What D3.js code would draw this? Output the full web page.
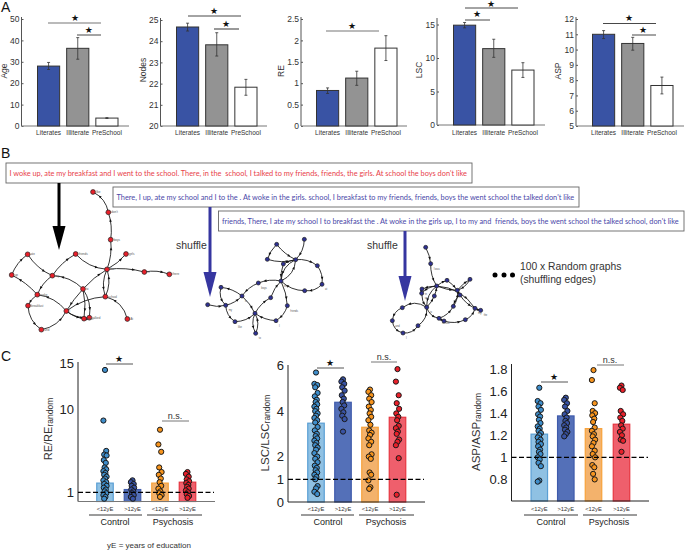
<!DOCTYPE html>
<html><head><meta charset="utf-8">
<script src="https://cdn.jsdelivr.net/npm/d3@7/dist/d3.min.js"></script>
<style>html,body{margin:0;padding:0;background:#fff}svg{display:block}text{font-family:"Liberation Sans",Arial,sans-serif;fill:#222}</style>
</head><body><svg id="c" width="685" height="551"></svg>
<script>
// ---------- Panel A data ----------
const groupsA = ["Literates","Illiterate","PreSchool"];
const ageVals=[28,36.3,3.7], ageLo=[26.4,31.2,3.5], ageHi=[29.7,41.3,3.9], ageTicks=[0,10,20,30,40,50];
const nodesVals=[24.67,23.83,21.83], nodesLo=[24.48,23.3,21.45], nodesHi=[24.85,24.4,22.2], nodesTicks=[20,21,22,23,24,25];
const reVals=[0.83,1.12,1.82], reLo=[0.76,0.95,1.53], reHi=[0.89,1.28,2.11], reTicks=[0,0.5,1,1.5,2,2.5], reTickLabels=["0","0.5","1","1.5","2","2.5"];
const lscVals=[14.9,11.4,8.2], lscLo=[14.5,10.1,7.1], lscHi=[15.3,12.8,9.3], lscTicks=[0,5,10,15];
const aspVals=[11,10.4,7.65], aspLo=[10.72,9.96,7.1], aspHi=[11.24,10.8,8.2], aspTicks=[5,6,7,8,9,10,11,12];
// ---------- Panel B data ----------
const sentence1="I woke up, ate my breakfast and I went to the school. There, in the  school, I talked to my friends, friends, the girls. At school the boys don't like";
const sentence2="There, I up, ate my school and I to the . At woke in the girls. school, I breakfast to my friends, friends, boys the went school the talked don't like";
const sentence3="friends, There, I ate my school I to breakfast the . At woke in the girls up, I to my and  friends, boys the went school the talked school, don't like";
const redNodes=[[279,141,"like"],[325,202,"don't"],[332,284,"boys"],[378,327,"girls"],[321,373,"the"],[433,381,"in"],[508,388,"there"],[227,327,"friends"],[83,328,"ate"],[157,392,"my"],[35,390,"up"],[112,449,"woke"],[84,482,"breakfast"],[124,554,"and"],[199,498,"I"],[249,432,"to"],[316,455,"school"],[268,518,"talked"],[382,522,"At"],[252,521,"went"]];
const redEdges=[[1,0,.25],[2,1,.12],[4,2,.12],[4,3,.1],[4,5,-.1],[5,6,-.15],[7,4,.2],[9,7,-.12],[8,9,.15],[10,8,-.15],[9,11,.15],[11,10,.1],[11,12,.15],[12,13,.25],[13,14,.25],[14,11,.2],[15,9,.2],[15,4,-.08],[15,14,.05],[16,14,.15],[4,16,.2],[16,4,.2],[15,17,-.2],[15,19,-.1],[14,17,.2],[14,19,.15],[19,17,.3],[18,16,.3]];
const blueNodesA=[[830,298,""],[913,283,""],[802,343,""],[887,344,""],[850,357,""],[952,362,""],[843,408,"the"],[775,414,"boys"],[966,418,"at"],[914,437,""],[812,458,""],[726,453,"in"],[663,427,""],[677,481,"my"],[623,479,""],[862,482,"friends"],[765,505,""],[705,530,"like"],[828,527,"I"],[767,565,"to"]];
const blueEdgesA=[[0,2,.12],[0,3,.12],[1,3,-.2],[2,3,.15],[3,4,.1],[4,6,.1],[6,3,.3],[3,6,.3],[3,5,-.2],[5,8,-.2],[8,9,-.25],[9,6,-.2],[6,7,.15],[7,11,.15],[11,12,.15],[12,13,.3],[14,13,.15],[13,11,.15],[13,17,.25],[17,16,.2],[11,16,-.1],[16,10,-.15],[10,6,-.12],[6,15,-.1],[15,18,-.2],[18,16,-.15],[16,19,.25],[19,16,.25]];
const blueNodesB=[[257,307,""],[272,356,"I was"],[321,406,""],[390,403,""],[290,423,""],[352,436,""],[246,432,"in"],[245,445,"up"],[283,453,""],[360,450,""],[340,484,""],[260,487,"to"],[187,488,""],[405,490,"my"],[422,496,"the"],[157,527,"and"],[297,520,"school"],[312,528,""],[376,524,""],[234,542,""],[189,564,"I"]];
const blueEdgesB=[[0,1,-.1],[1,4,.15],[4,2,-.1],[2,5,-.1],[5,3,-.1],[3,5,-.2],[4,5,.1],[4,6,.1],[6,7,.2],[4,7,.2],[7,11,.2],[4,11,.25],[11,8,.1],[8,4,.1],[11,12,.35],[12,15,.3],[15,20,.35],[20,19,.3],[19,11,.3],[11,16,.3],[16,17,.1],[17,18,.2],[18,13,.25],[13,14,.1],[5,9,.1],[9,13,.15],[9,10,.2],[10,5,.2],[4,13,-.25],[16,10,.2]];
// ---------- Panel C data ----------
const groupsC=["<12yE",">12yE","<12yE",">12yE"];
const reBars=[2,1.3,2,2.1];
const reDots=[[14.3,8.8,5.5,5.1,5,4.5,4.2,3.7,3.5,3.3,3.1,2.9,2.7,2.5,2.3,2.1,1.9,1.7,1.5,1.3,1.1,0.9,0.7,0.5,0.3],[2.3,2.1,1.9,1.7,1.5,1.3,1.1,0.9,0.7,0.5,0.3],[7.8,6.2,5.4,3.7,3.2,2.9,2.5,2.1,1.7,1.4,1.1,0.9,0.7,0.5],[3.2,3,2.7,2.4,2.2,2,1.8,1.6,1.4,1.2,1,0.8,0.6,0.4]];
const lscBars=[3.47,4.39,3.29,3.73];
const lscDots=[[5.7,5.2,5.15,5.05,4.8,4.65,4.5,4.4,4.3,4.2,4.1,4,3.9,3.8,3.7,3.6,3.5,3.3,3.15,3,2.9,2.8,2.7,2.6,2.5,2.4,2.3,2.15,2,1.9,1.75,1.6,1.5,1.4,1.3,1.2,1.1,1,0.7,0.6,0.45,0.35],[5.4,5.3,5.2,5.05,4.9,4.7,4.55,4.4,4.25,4.1,3.95,3.8,3.65,3.1],[4.95,4.85,4.7,4.55,4.4,4.2,4.05,3.9,3.75,3.6,3.4,3.15,3.05,2.95,2.8,2.65,2.5,2.1,2,1.9,1.3,1.2,0.95,0.65,0.58],[5.85,5.3,4.7,4.35,4.1,3.9,3.75,3.6,3.35,3.25,3.1,3,2.75,2.65,2.5,1.93,0.32]];
const aspBars=[1.21,1.375,1.26,1.3];
const aspDots=[[1.63,1.51,1.49,1.46,1.43,1.39,1.37,1.34,1.31,1.28,1.26,1.24,1.22,1.2,1.18,1.16,1.14,1.12,1.1,1.07,1.05,1.03,1,0.98,0.95,0.92,0.79,0.78],[1.54,1.52,1.49,1.46,1.42,1.39,1.36,1.33,1.31,1.29,1.27,1.25,1.23,1.21,1.19],[1.79,1.7,1.49,1.42,1.4,1.38,1.35,1.32,1.27,1.24,1.21,1.19,1.16,1.13,1.1,1.06,1.03,1,0.93,0.91,0.85,0.8],[1.65,1.63,1.61,1.42,1.39,1.36,1.33,1.29,1.26,1.23,1.2,1.16,1.15,1.05]];
const jitter=[0,-2,1.5,-1,2,-1.5,1,-.5,1.5,-2,.5,-1,2];

const svg=d3.select("#c");
const ink="#333";

function star(x,y,sz=9){svg.append("text").attr("x",x).attr("y",y+sz*.33).attr("text-anchor","middle").attr("font-size",sz).style("font-family","'DejaVu Sans'").style("fill","#111").text("★");}
function bracket(x1,x2,y,col="#333",w=1){svg.append("line").attr("x1",x1).attr("x2",x2).attr("y1",y).attr("y2",y).attr("stroke",col).attr("stroke-width",w);}

// ---- Panel A ----
const colsA=["#3953a4","#939393","#ffffff"];
function barPanel(o){
  const y=d3.scaleLinear().domain(o.domain).range([o.y0,o.y1]);
  const x=d3.scaleBand().domain(groupsA).range([o.x+o.pad,o.x+o.pad+80.5]).paddingInner(.24).paddingOuter(0);
  const g=svg.append("g");
  const ax=g.append("g").attr("transform",`translate(${o.x},0)`).call(d3.axisLeft(y).tickValues(o.ticks).tickSize(-2).tickPadding(2).tickFormat((d,i)=>o.labels?o.labels[i]:d));
  ax.selectAll("text").attr("font-size",8.5).style("fill","#333");
  ax.selectAll("path,line").attr("stroke","#555");
  ax.select("path").attr("d",`M0,${o.y0}V${o.top}`);
  g.append("line").attr("x1",o.x).attr("x2",o.xEnd).attr("y1",o.y0).attr("y2",o.y0).attr("stroke","#777").attr("stroke-width",1);
  g.selectAll("rect").data(o.vals).join("rect").attr("x",(d,i)=>x(groupsA[i])).attr("width",x.bandwidth())
    .attr("y",d=>y(d)).attr("height",d=>o.y0-y(d)).attr("fill",(d,i)=>colsA[i]).attr("stroke",ink).attr("stroke-width",1);
  o.vals.forEach((d,i)=>{const c=x(groupsA[i])+x.bandwidth()/2;
    g.append("path").attr("d",`M${c-1.5},${y(o.hi[i])}H${c+1.5}M${c},${y(o.hi[i])}V${y(o.lo[i])}M${c-1.5},${y(o.lo[i])}H${c+1.5}`).attr("stroke","#333").attr("stroke-width",.8).attr("fill","none");
    g.append("text").attr("x",c).attr("y",134.5).attr("text-anchor","middle").attr("font-size",6.5).style("fill","#333").text(groupsA[i]);
  });
  g.append("text").attr("transform",`translate(${o.lx},${o.ly}) rotate(-90)`).attr("text-anchor","middle").attr("font-size",8.5).style("fill","#333").text(o.name);
  o.br.forEach(b=>{bracket(b[0],b[1],b[2],b[3]||"#333",b[3]?1.2:.9);star(b[4],b[5]);});
}
barPanel({name:"Age",x:21.5,pad:16,xEnd:129,y0:126,y1:19,top:17,domain:[0,50],ticks:ageTicks,vals:ageVals,lo:ageLo,hi:ageHi,lx:7,ly:71,
  br:[[48,101,23,"#777",75,18],[77,101,35,null,88.7,30]]});
barPanel({name:"Nodes",x:160.5,pad:16,xEnd:267,y0:126,y1:20,top:18,domain:[20,25],ticks:nodesTicks,vals:nodesVals,lo:nodesLo,hi:nodesHi,lx:146,ly:70,
  br:[[188,241,16,null,214,11],[214,239,29,"#555",226,24]]});
barPanel({name:"RE",x:301,pad:15.5,xEnd:407,y0:126,y1:19,top:17,domain:[0,2.5],ticks:reTicks,labels:reTickLabels,vals:reVals,lo:reLo,hi:reHi,lx:284,ly:71,
  br:[[326,379,31,"#777",352,26]]});
barPanel({name:"LSC",x:437,pad:16.5,xEnd:545,y0:125,y1:24.5,top:18,domain:[0,15],ticks:lscTicks,vals:lscVals,lo:lscLo,hi:lscHi,lx:422,ly:70,
  br:[[465,518,8,null,491,4],[465,490,20,null,477,14.5]]});
barPanel({name:"ASP",x:576,pad:16.5,xEnd:684,y0:126,y1:19,top:17,domain:[5,12],ticks:aspTicks,vals:aspVals,lo:aspLo,hi:aspHi,lx:561,ly:71,
  br:[[603,656,23.5,null,629,18],[632,656,35,null,643,30]]});

// letters
[["A",1,12],["B",1,158],["C",1,361]].forEach(d=>svg.append("text").attr("x",d[1]).attr("y",d[2]).attr("font-size",14).style("fill","#111").text(d[0]));

// ---- Panel B ----
function box(x1,x2,y1,y2,t,col){
  svg.append("rect").attr("x",x1).attr("y",y1).attr("width",x2-x1).attr("height",y2-y1).attr("fill","#fff").attr("stroke","#666").attr("stroke-width",.9);
  const s=svg.append("text").attr("x",x1+3.5).attr("y",(y1+y2)/2+2.8).style("white-space","pre").attr("font-size",8).style("font-family","Lato").style("fill",col).text(t);
  const w=s.node().getComputedTextLength();
  s.attr("font-size",8*(x2-x1-8)/w);
}
function arrow(x,y1,y2,y3,hw,w,col){
  svg.append("line").attr("x1",x).attr("x2",x).attr("y1",y1).attr("y2",y2+1).attr("stroke",col).attr("stroke-width",w);
  svg.append("path").attr("d",d3.line()([[x-hw,y2],[x+hw,y2],[x,y3]])+"Z").attr("fill",col);
}
function network(nodes,edges,ox,oy,fill,r,labelSize){
  const gx=d3.scaleLinear().domain([0,3]).range([ox,ox+1]), gy=d3.scaleLinear().domain([0,3]).range([oy,oy+1]);
  const g=svg.append("g");
  edges.forEach(e=>{
    const a=nodes[e[0]],b=nodes[e[1]];
    const x1=gx(a[0]),y1=gy(a[1]),x2=gx(b[0]),y2=gy(b[1]);
    const dx=x2-x1,dy=y2-y1,mx=(x1+x2)/2-dy*e[2],my=(y1+y2)/2+dx*e[2];
    g.append("path").attr("d",`M${x1},${y1}Q${mx},${my} ${x2},${y2}`).attr("fill","none").attr("stroke","#111").attr("stroke-width",.85);
    const t=.72,ax=(1-t)*(1-t)*x1+2*t*(1-t)*mx+t*t*x2,ay=(1-t)*(1-t)*y1+2*t*(1-t)*my+t*t*y2;
    const tx=2*(1-t)*(mx-x1)+2*t*(x2-mx),ty=2*(1-t)*(my-y1)+2*t*(y2-my),an=Math.atan2(ty,tx)*180/Math.PI;
    g.append("path").attr("d","M-2,-1.3L1,0L-2,1.3Z").attr("transform",`translate(${ax},${ay}) rotate(${an})`).attr("fill","#111");
  });
  nodes.forEach(n=>{
    g.append("circle").attr("cx",gx(n[0])).attr("cy",gy(n[1])).attr("r",r).attr("fill",fill).attr("stroke","#222").attr("stroke-width",.7);
    if(n[2])g.append("text").attr("x",gx(n[0])+3).attr("y",gy(n[1])+ (labelSize>2.8?1:6)).attr("font-size",labelSize).style("fill","#555").text(n[2]);
  });
}
network(redNodes,redEdges,0,145,"#e8202a",2.4,3);
network(blueNodesA,blueEdgesA,0,145,"#2e3192",2,2.6);
network(blueNodesB,blueEdgesB,340,145,"#2e3192",2,2.6);
box(6,472,163,183,sentence1,"#e8414a");
box(113,579,187,207,sentence2,"#4a48a8");
box(218.5,684,211,231,sentence3,"#4a48a8");
arrow(59,183,226,250,6.5,3,"#000");
arrow(210,207,272,297,6.5,3,"#3636a0");
arrow(405,231,276,301,6.5,3,"#3636a0");
[[176,249],[367,249]].forEach(p=>svg.append("text").attr("x",p[0]).attr("y",p[1]).attr("font-size",10.5).style("fill","#333").text("shuffle"));
[495,504,512.5].forEach(x=>svg.append("circle").attr("cx",x).attr("cy",275).attr("r",2.5).attr("fill","#000"));
svg.append("text").attr("x",520).attr("y",270).attr("font-size",10.3).style("fill","#333").text("100 x Random graphs");
svg.append("text").attr("x",520).attr("y",282.5).attr("font-size",10.3).style("fill","#333").text("(shuffling edges)");

// ---- Panel C ----
const barFill=["#8fc1e3","#5470b8","#f3b26c","#ef5f6c"], barStroke=["#5a9fd4","#3f5bab","#f7a13a","#e53540"], dotFill=["#3f8ecb","#3953a4","#f7941d","#e8202a"];
function dotPanel(o){
  const y=d3.scaleLinear().domain(o.domain).range(o.range);
  const g=svg.append("g");
  const ax=g.append("g").attr("transform",`translate(${o.x},0)`).call(d3.axisLeft(y).tickValues(o.ticks).tickSize(0).tickPadding(4).tickFormat(d=>d));
  ax.selectAll("text").attr("font-size",13).style("fill","#222");
  ax.select("path").attr("d",`M0,${o.y0}V${o.top}`).attr("stroke","#222").attr("stroke-width",1);
  const cx=o.cx, bw=16.5;
  o.bars.forEach((d,i)=>{
    g.append("rect").attr("x",cx[i]-bw/2).attr("width",bw).attr("y",y(d)).attr("height",o.y0-y(d)).attr("fill",barFill[i]).attr("stroke",barStroke[i]).attr("stroke-width",1.2);
  });
  g.append("line").attr("x1",o.x).attr("x2",o.xEnd).attr("y1",o.y0).attr("y2",o.y0).attr("stroke",o.axisCol).attr("stroke-width",1);
  o.dots.forEach((col,i)=>{
    g.selectAll(null).data(col).join("circle").attr("cx",(d,j)=>cx[i]+jitter[j%jitter.length]*.8).attr("cy",d=>y(d)).attr("r",2.6)
      .attr("fill",dotFill[i]).attr("stroke","#1a1a1a").attr("stroke-width",1);
  });
  g.append("line").attr("x1",o.x).attr("x2",o.xEnd-1).attr("y1",y(1)).attr("y2",y(1)).attr("stroke","#000").attr("stroke-width",1.3).attr("stroke-dasharray","5 2.5");
  groupsC.forEach((t,i)=>g.append("text").attr("x",cx[i]).attr("y",511).attr("text-anchor","middle").attr("font-size",5.8).style("fill","#333").text(t));
  bracket(o.g1[0],o.g1[1],515,"#222",.9);bracket(o.g2[0],o.g2[1],515,"#222",.9);
  g.append("text").attr("x",o.g1[2]).attr("y",525).attr("text-anchor","middle").attr("font-size",9).style("fill","#222").text("Control");
  g.append("text").attr("x",o.g2[2]).attr("y",525).attr("text-anchor","middle").attr("font-size",9).style("fill","#222").text("Psychosis");
  const yl=g.append("text").attr("transform",`translate(${o.lx},${o.ly}) rotate(-90)`).attr("text-anchor","middle").style("fill","#333");
  yl.append("tspan").attr("font-size",o.ls).text(o.name);
  yl.append("tspan").attr("font-size",8.5).attr("dy",1).text("random");
  bracket(o.s[0],o.s[1],o.s[2],"#555",1);star(o.s[3],o.s[2]-4.5,9);
  bracket(o.n[0],o.n[1],o.n[2],"#777",1);
  g.append("text").attr("x",o.n[3]).attr("y",o.n[2]-2).attr("text-anchor","middle").attr("font-size",9).style("fill","#333").text("n.s.");
}
dotPanel({name:"RE/RE",ls:11,x:78,xEnd:215,y0:501.5,top:362,domain:[0,15],range:[501.5,363.5],ticks:[1,10,15],bars:reBars,dots:reDots,cx:[105,132.5,160,187.5],axisCol:"#777",
  g1:[89,142,115],g2:[147,202,173],lx:52,ly:429,s:[106,133,364,119],n:[162,189,421,175]});
dotPanel({name:"LSC/LSC",ls:11.5,x:288,xEnd:425,y0:502,top:365,domain:[0,6],range:[502,365.7],ticks:[0,1,2,4,6],bars:lscBars,dots:lscDots,cx:[316,343,370,397.5],axisCol:"#222",
  g1:[301,354,328],g2:[359,414,386],lx:269,ly:433,s:[317,344,368,330],n:[371,397,362,384]});
dotPanel({name:"ASP/ASP",ls:11.5,x:511.5,xEnd:649,y0:501,top:364,domain:[0.6,1.8],range:[501.5,369],ticks:[0.8,1,1.2,1.4,1.6,1.8],bars:aspBars,dots:aspDots,cx:[539.3,565.8,593.5,621.5],axisCol:"#222",
  g1:[524,578,551],g2:[583,637,609],lx:480,ly:432,s:[541,568,382,554],n:[597,624,365,610]});
svg.append("text").attr("x",149).attr("y",548).attr("text-anchor","middle").attr("font-size",8).style("fill","#333").text("yE = years of education");
</script></body></html>
